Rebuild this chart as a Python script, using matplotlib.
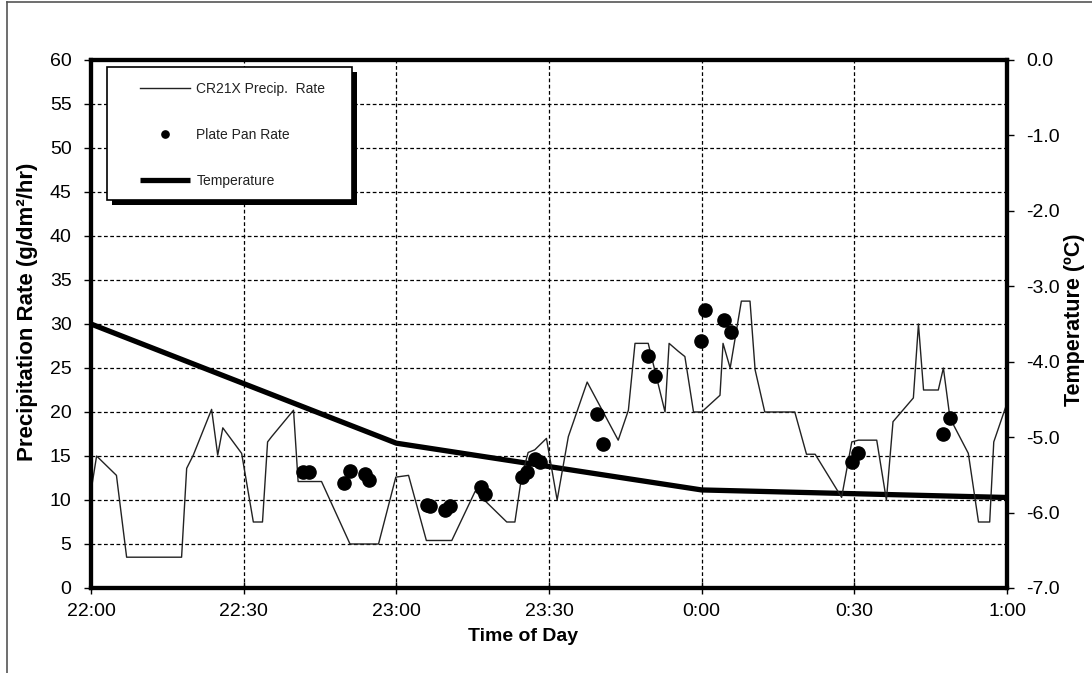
import matplotlib
matplotlib.use("Agg")
import matplotlib.pyplot as plt
from matplotlib.lines import Line2D
from matplotlib.patches import Rectangle

plt.rcParams['font.family'] = ['Liberation Sans', 'DejaVu Sans']

# Minutes after 22:00 and CR21X precipitation rate (g/dm²/hr)
cr21x_min = [0, 1.1, 5.0, 7.0, 17.8, 18.8, 20.1, 23.7, 24.9, 25.9, 29.6, 31.9, 33.7,
             34.7, 35.5, 39.8, 40.7, 45.3, 50.9, 56.5, 59.9, 62.4, 65.9, 70.9, 75.5,
             81.7, 83.3, 84.6, 85.9, 87.2, 89.5, 91.6, 93.8, 97.5, 103.6, 105.6, 106.9,
             109.5, 112.8, 113.6, 115.4, 116.7, 118.4, 120.0, 123.6, 124.2, 125.6, 127.8,
             129.5, 130.5, 132.4, 138.3, 140.6, 142.3, 147.5, 149.5, 150.8, 154.4, 156.3,
             157.6, 161.6, 162.6, 163.6, 166.5, 167.5, 168.8, 172.4, 174.4, 176.6, 177.4,
             180.0]
cr21x_rate = [11.0, 15.0, 12.8, 3.5, 3.5, 13.6, 15.1, 20.3, 15.1, 18.2, 15.3, 7.5, 7.5,
              16.6, 17.2, 20.2, 12.1, 12.1, 5.0, 5.0, 12.6, 12.8, 5.4, 5.4, 11.0,
              7.5, 7.5, 12.6, 15.4, 15.7, 17.0, 10.0, 17.2, 23.4, 16.8, 20.2, 27.8,
              27.8, 20.0, 27.8, 26.9, 26.3, 20.0, 20.0, 21.9, 27.8, 25.0, 32.6,
              32.6, 24.8, 20.0, 20.0, 15.2, 15.2, 10.3, 16.6, 16.8, 16.8, 10.0,
              18.9, 21.6, 30.0, 22.5, 22.5, 25.0, 19.3, 15.3, 7.5, 7.5, 16.6,
              21.0]

# Plate pan samples
pan_min = [41.7, 42.9, 49.7, 50.9, 53.8, 54.7, 66.1, 66.6, 69.6, 70.5, 76.6, 77.4,
           84.6, 85.6, 87.2, 88.2, 99.5, 100.7, 109.5, 110.8, 119.8, 120.6, 124.4, 125.7,
           149.5, 150.8, 167.5, 168.8]
pan_rate = [13.2, 13.2, 11.9, 13.3, 13.0, 12.3, 9.4, 9.3, 8.9, 9.3, 11.5, 10.7,
            12.6, 13.2, 14.7, 14.3, 19.8, 16.4, 26.4, 24.1, 28.1, 31.6, 30.5, 29.1,
            14.3, 15.3, 17.5, 19.3]

# Air temperature (°C)
temp_min = [0, 60, 120, 150, 180]
temp_c = [-3.50, -5.08, -5.70, -5.75, -5.80]

time_ticks = [0, 30, 60, 90, 120, 150, 180]
time_labels = ['22:00', '22:30', '23:00', '23:30', '0:00', '0:30', '1:00']
rate_ticks = list(range(0, 61, 5))
temp_ticks = [0.0, -1.0, -2.0, -3.0, -4.0, -5.0, -6.0, -7.0]

fig = plt.figure(figsize=(10.92, 6.73), dpi=100)
ax = fig.add_axes([91 / 1092, 1 - 588 / 673, 916 / 1092, 528 / 673])
ax2 = ax.twinx()

# outer figure border (top and left edges)
fig.add_artist(Line2D([7 / 1092, 1.0], [1 - 2 / 673, 1 - 2 / 673], transform=fig.transFigure,
                      color='#555555', lw=1.2))
fig.add_artist(Line2D([7 / 1092, 7 / 1092], [0.0, 1 - 2 / 673], transform=fig.transFigure,
                      color='#555555', lw=1.2))

grid_kw = dict(color='black', lw=0.9, linestyle=(0, (3, 2)), zorder=0.5)
for v in rate_ticks[1:-1]:
    ax.axhline(v, **grid_kw)
for t in time_ticks[1:-1]:
    ax.axvline(t, **grid_kw)

l_cr, = ax.plot(cr21x_min, cr21x_rate, color='#222222', lw=1.0, zorder=2,
                label='CR21X Precip.  Rate')
l_pan, = ax.plot(pan_min, pan_rate, 'o', color='black', ms=9.5, zorder=3,
                 label='Plate Pan Rate')
l_t, = ax2.plot(temp_min, temp_c, color='black', lw=3.8, zorder=2,
                solid_capstyle='butt', label='Temperature')

ax.set_xlim(0, 180)
ax.set_ylim(0, 60)
ax2.set_ylim(-7.0, 0.0)

ax.set_xticks(time_ticks)
ax.set_xticklabels(time_labels)
ax.set_yticks(rate_ticks)
ax2.set_yticks(temp_ticks)
ax2.set_yticklabels([f'{v:.1f}' for v in temp_ticks])

for a in (ax, ax2):
    for s in a.spines.values():
        s.set_linewidth(3.0)
        s.set_color('black')

ax.tick_params(axis='x', direction='inout', length=9, width=1, labelsize=14, pad=6)
ax.tick_params(axis='y', direction='out', length=5, width=1, labelsize=14, pad=9)
ax2.tick_params(axis='y', direction='out', length=5, width=1, labelsize=14, pad=9)

ax.set_xlabel('Time of Day', fontsize=14, fontweight='bold')
ax.xaxis.set_label_coords(0.472, -0.075)
ax.set_ylabel('Precipitation Rate (g/dm²/hr)', fontsize=16, fontweight='bold')
ax.yaxis.set_label_coords(-0.058, 0.523)
ax2.set_ylabel('Temperature (ºC)', fontsize=15.5, fontweight='bold')
ax2.yaxis.set_label_coords(1.062, 0.508)

ax.set_zorder(ax2.get_zorder() + 1)
ax.patch.set_visible(False)

# legend box with a solid drop shadow
box_x, box_y, box_w, box_h = 0.0175, 0.7348, 0.2675, 0.2519
ax.add_patch(Rectangle((box_x + 0.0055, box_y - 0.0095), box_w, box_h, transform=ax.transAxes,
                       facecolor='black', edgecolor='black', lw=0, zorder=8.8, clip_on=False))
ax.add_patch(Rectangle((box_x, box_y), box_w, box_h, transform=ax.transAxes,
                       facecolor='white', edgecolor='black', lw=1.2, zorder=8.9, clip_on=False))

leg = ax.legend(handles=[l_cr, l_pan, l_t], loc='upper left',
                bbox_to_anchor=(0.0535, 0.958), fontsize=10, frameon=False,
                borderpad=0, labelspacing=2.3, handlelength=3.6, handletextpad=0.45,
                borderaxespad=0, markerscale=0.55)
leg.set_zorder(10)
for txt in leg.get_texts():
    txt.set_color('#222222')

fig.savefig('out.png', dpi=100)
